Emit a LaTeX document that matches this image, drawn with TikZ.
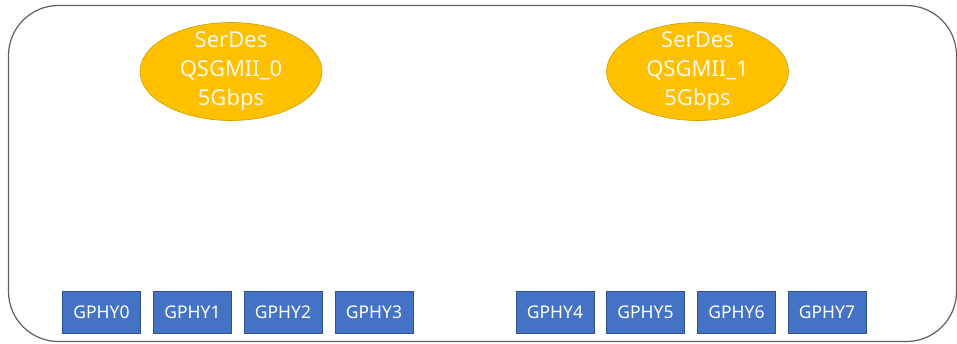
\documentclass[tikz,border=0pt]{standalone}
\usepackage{fontspec}
\setmainfont{Noto Sans}
\usetikzlibrary{shapes.geometric}
\definecolor{serdesfill}{HTML}{FFC000}
\definecolor{serdesline}{HTML}{C9A000}
\definecolor{phyfill}{HTML}{4472C4}
\definecolor{phyline}{HTML}{2F528F}
\definecolor{frameline}{HTML}{606060}
\definecolor{labeltext}{HTML}{FFF8E8}
\begin{document}
\begin{tikzpicture}[x=1pt,y=-1pt,
  serdes/.style={ellipse, draw=serdesline, line width=0.6pt, fill=serdesfill,
    minimum width=182pt, minimum height=98pt, inner xsep=0pt, inner ysep=-11pt,
    align=center, text=labeltext, font=\fontsize{22}{29}\selectfont},
  phy/.style={rectangle, draw=phyline, line width=0.6pt, fill=phyfill,
    minimum width=78pt, minimum height=42pt, inner sep=0pt,
    text=white, font=\fontsize{17.5}{19}\selectfont}]
  \useasboundingbox (0,0) rectangle (957,343);
  % enclosing frame
  \draw[frameline, line width=1.2pt, rounded corners=50pt] (8.5,5.5) rectangle (956.5,341.5);
  % SerDes blocks
  \node[serdes] (q0) at (231,71.5) {SerDes\\QSGMII\_0\\5Gbps};
  \node[serdes] (q1) at (697.5,71.5) {SerDes\\QSGMII\_1\\5Gbps};
  % PHY blocks
  \node[phy] (p0) at (101.5,312.5) {GPHY0};
  \node[phy] (p1) at (192.5,312.5) {GPHY1};
  \node[phy] (p2) at (283,312.5) {GPHY2};
  \node[phy] (p3) at (374,312.5) {GPHY3};
  \node[phy] (p4) at (555,312.5) {GPHY4};
  \node[phy] (p5) at (645.5,312.5) {GPHY5};
  \node[phy] (p6) at (736.5,312.5) {GPHY6};
  \node[phy] (p7) at (827,312.5) {GPHY7};
\end{tikzpicture}
\end{document}
